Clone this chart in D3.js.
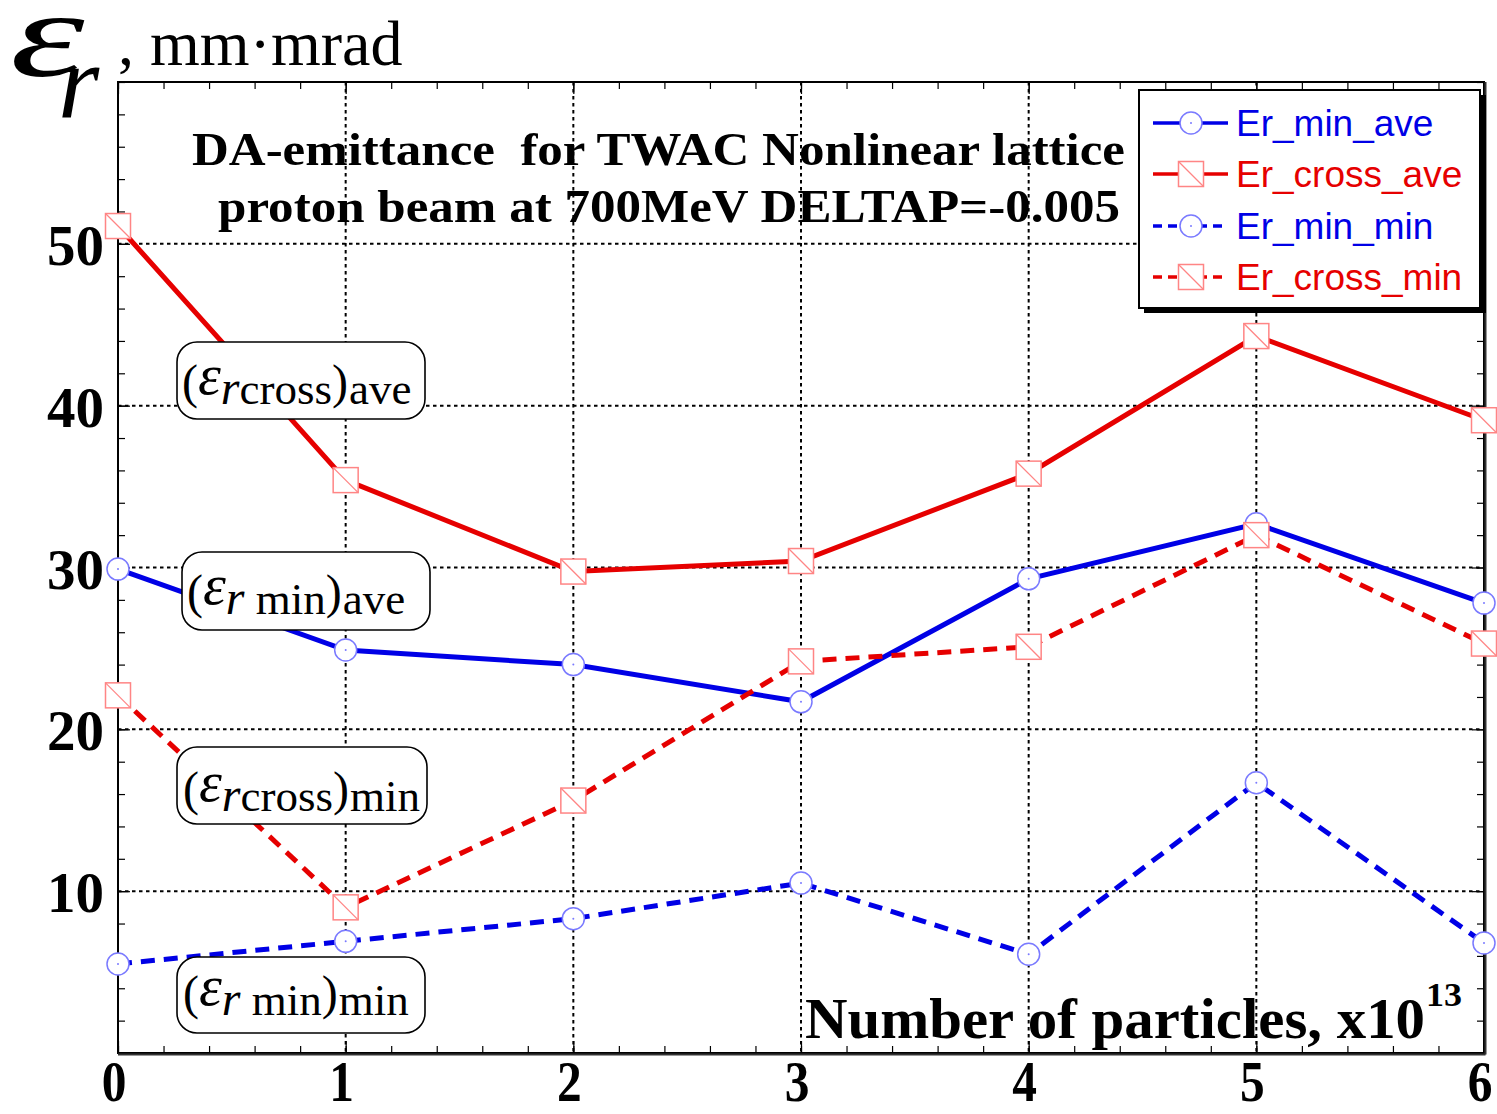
<!DOCTYPE html>
<html>
<head>
<meta charset="utf-8">
<script src="https://cdn.jsdelivr.net/npm/d3@7"></script>
<style>
  html, body { margin: 0; padding: 0; background: #fff; }
  svg { display: block; }
  text { white-space: pre; }
</style>
</head>
<body>
<svg id="chart" width="1497" height="1114"></svg>
<script>
// Particle counts (x10^13)
const particles = [0, 1, 2, 3, 4, 5, 6];
// Radial DA-emittance, mm·mrad
const erMinAve   = [29.9, 24.9, 24.0, 21.7, 29.3, 32.7, 27.8];
const erCrossAve = [51.1, 35.4, 29.75, 30.4, 35.8, 44.3, 39.1];
const erMinMin   = [5.5, 6.9, 8.3, 10.5, 6.1, 16.7, 6.8];
const erCrossMin = [22.1, 9.0, 15.6, 24.2, 25.1, 32.0, 25.3];
const seriesNames = ["Er_min_ave", "Er_cross_ave", "Er_min_min", "Er_cross_min"];
const xTickLabels = ["0", "1", "2", "3", "4", "5", "6"];
const yTickValues = [10, 20, 30, 40, 50];
const titleLines = ["DA-emittance  for TWAC Nonlinear lattice", "proton beam at 700MeV DELTAP=-0.005"];

const svg = d3.select("#chart");
const serif = "'Liberation Serif', 'Times New Roman', serif";
const sans = "'Liberation Sans', Arial, sans-serif";
const RED = "#e60000", BLUE = "#0000e6";

const L = 118, R = 1484, T = 82, B = 1053;
const x = d3.scaleLinear().domain([0, 6]).range([L, R]);
const y = d3.scaleLinear().domain([0, 60]).range([B, T]);

// grid
const grid = svg.append("g").attr("stroke", "#000").attr("stroke-width", 2).attr("stroke-dasharray", "3.5,3.5");
grid.selectAll("line.gx").data(d3.range(1, 6)).join("line")
  .attr("x1", d => x(d)).attr("x2", d => x(d)).attr("y1", T).attr("y2", B);
grid.selectAll("line.gy").data(yTickValues).join("line")
  .attr("x1", L).attr("x2", R).attr("y1", d => y(d)).attr("y2", d => y(d));

// inward ticks on all four sides
function tickLayer(axis, transform) {
  const g = svg.append("g").attr("transform", transform).call(axis);
  g.select(".domain").remove();
  g.selectAll("text").remove();
  g.selectAll("line").attr("stroke", "#000").attr("stroke-width", 1.2);
  return g;
}
const xMinor = d3.range(0, 6.001, 0.2).map(v => +v.toFixed(2));
const yMinor = d3.range(0, 60.001, 2);
tickLayer(d3.axisBottom(x).tickValues(xMinor).tickSize(-7), `translate(0,${B})`);
tickLayer(d3.axisTop(x).tickValues(xMinor).tickSize(-7), `translate(0,${T})`);
tickLayer(d3.axisBottom(x).tickValues(particles).tickSize(-12), `translate(0,${B})`);
tickLayer(d3.axisTop(x).tickValues(particles).tickSize(-12), `translate(0,${T})`);
tickLayer(d3.axisLeft(y).tickValues(yMinor).tickSize(-7), `translate(${L},0)`);
tickLayer(d3.axisRight(y).tickValues(yMinor).tickSize(-7), `translate(${R},0)`);
tickLayer(d3.axisLeft(y).tickValues(yTickValues).tickSize(-12), `translate(${L},0)`);
tickLayer(d3.axisRight(y).tickValues(yTickValues).tickSize(-12), `translate(${R},0)`);

// frame
svg.append("rect").attr("x", L).attr("y", T).attr("width", R - L).attr("height", B - T)
  .attr("fill", "none").attr("stroke", "#000").attr("stroke-width", 2);
svg.append("line").attr("x1", L).attr("x2", R + 1.5).attr("y1", B + 1.5).attr("y2", B + 1.5)
  .attr("stroke", "#333").attr("stroke-width", 2);
svg.append("line").attr("x1", R + 1.5).attr("x2", R + 1.5).attr("y1", T).attr("y2", B + 1.5)
  .attr("stroke", "#333").attr("stroke-width", 2);

// tick labels
svg.append("g").selectAll("text").data(particles).join("text")
  .attr("transform", d => `translate(${x(d) - 4},1101) scale(0.95,1.1)`)
  .attr("text-anchor", "middle")
  .attr("font-family", serif).attr("font-weight", "bold").attr("font-size", 52)
  .text((d, i) => xTickLabels[i]);
svg.append("g").selectAll("text").data(yTickValues).join("text")
  .attr("x", 104).attr("y", d => y(d) + 21)
  .attr("text-anchor", "end")
  .attr("font-family", serif).attr("font-weight", "bold").attr("font-size", 57)
  .text(d => d);

// title
const titleG = svg.append("g").attr("font-family", serif).attr("font-weight", "bold").attr("font-size", 46);
titleG.append("text").attr("x", 192).attr("y", 165).attr("textLength", 933)
  .attr("lengthAdjust", "spacingAndGlyphs").text(titleLines[0]);
titleG.append("text").attr("x", 218).attr("y", 222).attr("textLength", 902)
  .attr("lengthAdjust", "spacingAndGlyphs").text(titleLines[1]);

// axis titles
const xt = svg.append("text").attr("font-family", serif).attr("font-weight", "bold");
xt.append("tspan").attr("x", 805).attr("y", 1038).attr("font-size", 58)
  .attr("textLength", 620).attr("lengthAdjust", "spacingAndGlyphs").text("Number of particles, x10");
xt.append("tspan").attr("x", 1426).attr("y", 1006).attr("font-size", 34)
  .attr("textLength", 36).attr("lengthAdjust", "spacingAndGlyphs").text("13");

svg.append("text").attr("font-family", serif).attr("font-style", "italic").attr("font-size", 122)
  .attr("transform", "translate(10,76) scale(1.55,1)").text("ε");
svg.append("text").attr("font-family", serif).attr("font-style", "italic").attr("font-size", 106)
  .attr("x", 58).attr("y", 117).text("r");
svg.append("text").attr("font-family", serif).attr("font-size", 64)
  .attr("x", 118).attr("y", 65).text(", mm·mrad");

// data lines
const series = [
  { name: seriesNames[0], values: erMinAve, color: BLUE, dash: null, marker: "circle" },
  { name: seriesNames[1], values: erCrossAve, color: RED, dash: null, marker: "square" },
  { name: seriesNames[2], values: erMinMin, color: BLUE, dash: "14,9", marker: "circle" },
  { name: seriesNames[3], values: erCrossMin, color: RED, dash: "14,9", marker: "square" }
];
const line = d3.line().x((d, i) => x(particles[i])).y(d => y(d));
svg.append("g").selectAll("path").data(series).join("path")
  .attr("d", s => line(s.values))
  .attr("fill", "none").attr("stroke", s => s.color).attr("stroke-width", 5)
  .attr("stroke-dasharray", s => s.dash);

function drawMarker(g, type, cx, cy) {
  if (type === "circle") {
    g.append("circle").attr("cx", cx).attr("cy", cy).attr("r", 11)
      .attr("fill", "#fff").attr("stroke", "#7a7aff").attr("stroke-width", 1.5);
    g.append("circle").attr("cx", cx).attr("cy", cy).attr("r", 1)
      .attr("fill", "#7a7aff");
  } else {
    const h = 12.5;
    g.append("rect").attr("x", cx - h).attr("y", cy - h).attr("width", 2 * h).attr("height", 2 * h)
      .attr("fill", "#fff").attr("stroke", "#ff8585").attr("stroke-width", 1.5);
    g.append("line").attr("x1", cx - h).attr("y1", cy - h).attr("x2", cx + h).attr("y2", cy + h)
      .attr("stroke", "#ff8585").attr("stroke-width", 1.3);
  }
}
const markers = svg.append("g");
series.forEach(s => s.values.forEach((v, i) => drawMarker(markers, s.marker, x(particles[i]), y(v))));

// annotation boxes
const notes = [
  { box: [177, 342, 248, 77], x: 182, b: 404, sub: "cross", tail: "ave" },
  { box: [182, 552, 248, 78], x: 187, b: 614, sub: " min", tail: "ave" },
  { box: [177, 747, 250, 77], x: 183, b: 811, sub: "cross", tail: "min" },
  { box: [177, 957, 248, 76], x: 183, b: 1015, sub: " min", tail: "min" }
];
notes.forEach(n => {
  svg.append("rect").attr("x", n.box[0]).attr("y", n.box[1]).attr("width", n.box[2]).attr("height", n.box[3])
    .attr("rx", 20).attr("fill", "#fff").attr("stroke", "#000").attr("stroke-width", 1.6);
  const t = svg.append("text").attr("font-family", serif).attr("font-size", 45).attr("x", n.x).attr("y", n.b);
  t.append("tspan").attr("dy", -6).attr("font-size", 48).text("(");
  t.append("tspan").attr("dy", -4).attr("font-style", "italic").attr("font-size", 58).text("ε");
  t.append("tspan").attr("dy", 10).attr("font-style", "italic").attr("font-size", 48).text("r");
  t.append("tspan").attr("dy", 0).text(n.sub);
  t.append("tspan").attr("dy", -6).attr("font-size", 48).text(")");
  t.append("tspan").attr("dx", 1).attr("dy", 6).text(n.tail);
});

// legend
const lg = svg.append("g");
lg.append("rect").attr("x", 1144).attr("y", 95).attr("width", 342).attr("height", 218).attr("fill", "#000");
lg.append("rect").attr("x", 1139).attr("y", 90).attr("width", 341).attr("height", 218)
  .attr("fill", "#fff").attr("stroke", "#000").attr("stroke-width", 2);
const rowY = [123, 174, 226, 277];
series.forEach((s, i) => {
  const ry = rowY[i];
  lg.append("line").attr("x1", 1153).attr("x2", 1228).attr("y1", ry).attr("y2", ry)
    .attr("stroke", s.color).attr("stroke-width", 3.5)
    .attr("stroke-dasharray", s.dash ? "9,6" : null);
  drawMarker(lg, s.marker, 1191, ry);
  lg.append("text").attr("x", 1236).attr("y", ry + 13)
    .attr("font-family", sans).attr("font-size", 37).attr("fill", s.color).text(s.name);
});
</script>
</body>
</html>
